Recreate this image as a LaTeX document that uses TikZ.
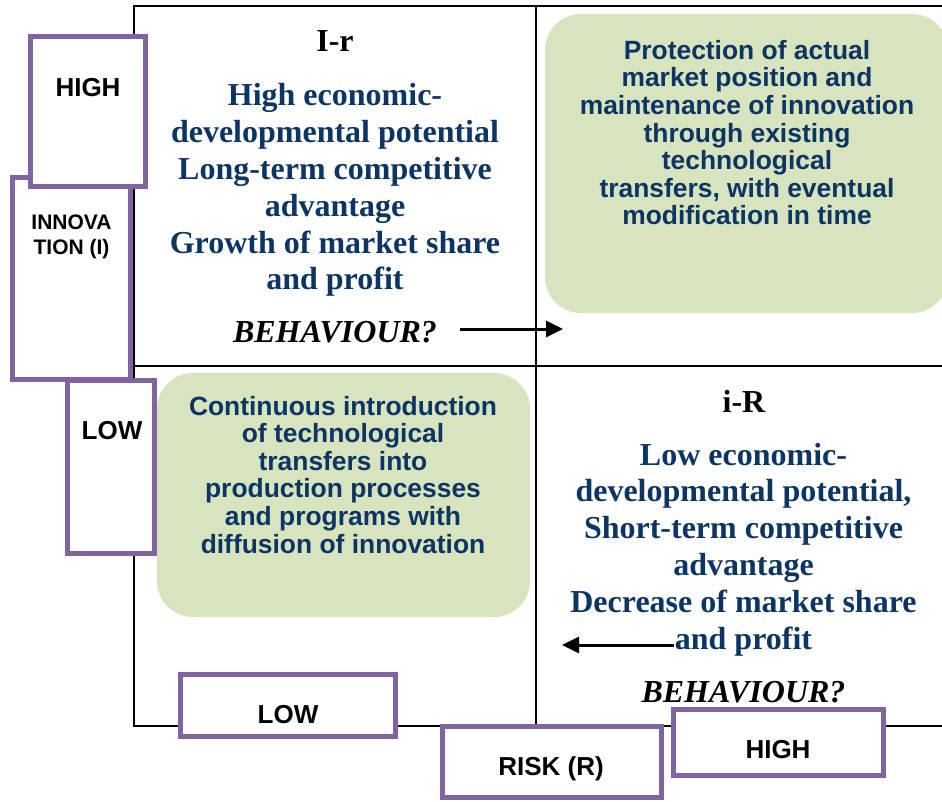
\documentclass[tikz,border=0pt]{standalone}
\usepackage{fontspec}
\setmainfont{Liberation Serif}
\setsansfont{Liberation Sans}
\usetikzlibrary{shapes,arrows.meta,calc,positioning}
\definecolor{navy}{RGB}{12,52,100}
\definecolor{lila}{RGB}{128,100,162}
\definecolor{pale}{RGB}{215,228,189}

\begin{document}
\begin{tikzpicture}[x=1pt,y=-1pt,
        lbox/.style={draw=lila,line width=5pt,fill=white},
        gbox/.style={fill=pale,rounded corners=36pt},
        lbl/.style={anchor=base,inner sep=0pt,align=center,font=\sffamily\bfseries\fontsize{26}{30}\selectfont},
        serif/.style={anchor=base,inner sep=0pt,align=center,text=navy,font=\rmfamily\bfseries\fontsize{32}{36.8}\selectfont},
        gtext/.style={anchor=base,inner sep=0pt,align=center,text=navy,font=\sffamily\bfseries\fontsize{26.4}{27.6}\selectfont},
        arr/.style={line width=3pt,-{Triangle[length=17pt,width=16pt]}}]
    \useasboundingbox (0,0) rectangle (942,802);
    % quadrants
    \draw[line width=1.2pt] (942,6) -- (134,6) -- (134,726) -- (942,726);
    \draw[line width=1.2pt] (134,366) -- (942,366) (536,6) -- (536,726);
    % green fields
    \fill[gbox] (545,14) rectangle (948,313);
    \fill[gbox] (157,373) rectangle (530,617);
    % purple labels
    \draw[lbox] (12.5,177.5) rectangle (130.5,379.5);
    \draw[lbox] (30.5,36.5) rectangle (145.5,186.5);
    \draw[lbox] (67.5,380.5) rectangle (154.5,553.5);
    \draw[lbox] (180.5,674.5) rectangle (395.5,736.5);
    \draw[lbox] (442.5,726.5) rectangle (661.5,797.5);
    \draw[lbox] (673.5,709.5) rectangle (883.5,775.5);
    % (multi-line nodes sit on their last baseline)
    \node[lbl] (hiI) at (88,97) {HIGH};
    \node[lbl,font=\sffamily\bfseries\fontsize{21}{25}\selectfont] (innov) at (71.5,255) {INNOVA\\TION (I)};
    \node[lbl] (loI) at (112,439) {LOW};
    \node[lbl] (loR) at (288,723) {LOW};
    \node[lbl] (risk) at (551,775) {RISK (R)};
    \node[lbl] (hiR) at (778,758) {HIGH};
    % quadrant I-r
    \node[serif,text=black] (ir) at (335,52) {I-r};
    \node[serif] (irtxt) at (335,290) {High economic-\\developmental potential\\Long-term competitive\\advantage\\Growth of market share\\and profit};
    \node[serif,text=black,font=\rmfamily\bfseries\itshape\fontsize{32}{36.8}\selectfont] (beh1) at (335,342) {BEHAVIOUR?};
    % quadrant i-R
    \node[serif,text=black] (iR) at (744,412) {i-R};
    \node[serif] (iRtxt) at (743.5,649) {Low economic-\\developmental potential,\\Short-term competitive\\advantage\\Decrease of market share\\and profit};
    \node[serif,text=black,font=\rmfamily\bfseries\itshape\fontsize{32}{36.8}\selectfont] (beh2) at (743.5,702) {BEHAVIOUR?};
    % green texts
    \node[gtext] (prot) at (747,225) {Protection of actual\\market position and\\maintenance of innovation\\through existing\\technological\\transfers, with eventual\\modification in time};
    \node[gtext] (cont) at (343,553) {Continuous introduction\\of technological\\transfers into\\production processes\\and programs with\\diffusion of innovation};
    % arrows
    \coordinate (a1) at (460,329);
    \coordinate (b1) at (563,329);
    \coordinate (a2) at (674,645);
    \coordinate (b2) at (562,645);
    \draw[arr] (a1) -- (b1);
    \draw[arr] (a2) -- (b2);
\end{tikzpicture}
\end{document}
